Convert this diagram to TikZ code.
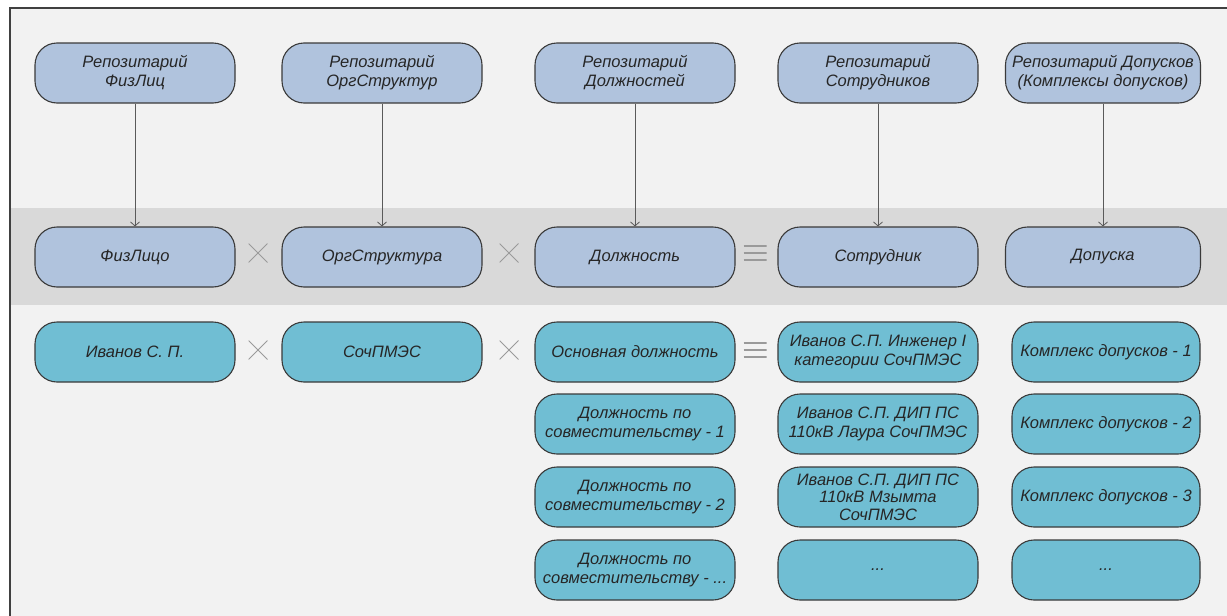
\documentclass[tikz,border=0pt]{standalone}
\usepackage{fontspec}
\setmainfont{Liberation Sans}
\usetikzlibrary{arrows.meta}
\definecolor{bgc}{HTML}{F2F2F2}
\definecolor{bandc}{HTML}{D9D9D9}
\definecolor{topc}{HTML}{B0C3DD}
\definecolor{botc}{HTML}{70BED3}
\definecolor{edgec}{HTML}{3A3A3A}
\definecolor{symc}{HTML}{9A9A9A}
\definecolor{arrc}{HTML}{5A5A5A}
\definecolor{framec}{HTML}{404040}
\begin{document}
\begin{tikzpicture}[x=1pt,y=-1pt,
  box/.style={draw=edgec, line width=1.1pt, rounded corners=22pt, minimum width=200pt,
    minimum height=60pt, inner sep=0pt, align=center,
    font=\fontsize{16.5}{19}\selectfont\itshape, text=black!85},
  repo/.style={box, fill=topc},
  inst/.style={box, fill=botc},
  crossmark/.style={minimum width=19pt, minimum height=19pt, inner sep=0pt,
    path picture={\draw[symc, line width=1pt]
      (path picture bounding box.north west) -- (path picture bounding box.south east)
      (path picture bounding box.north east) -- (path picture bounding box.south west);}},
  equivmark/.style={minimum width=23pt, minimum height=16pt, inner sep=0pt,
    path picture={\draw[symc, line width=1.8pt]
      ([yshift=-1pt]path picture bounding box.north west) -- ([yshift=-1pt]path picture bounding box.north east)
      (path picture bounding box.west) -- (path picture bounding box.east)
      ([yshift=1pt]path picture bounding box.south west) -- ([yshift=1pt]path picture bounding box.south east);}},
  link/.style={draw=arrc, line width=0.8pt, -{Straight Barb[length=4pt,width=9pt]}}]
\useasboundingbox (0,0) rectangle (1227,616);
\fill[bgc] (10,8) rectangle (1227,616);
\fill[bandc] (11,208) rectangle (1227,305);
\draw[framec, line width=1.2pt] (10,616) -- (10,8) -- (1227,8);

% top row
\node[repo] (r1) at (135,73) {Репозитарий\\ФизЛиц};
\node[repo] (r2) at (382,73) {Репозитарий\\ОргСтруктур};
\node[repo] (r3) at (635,73) {Репозитарий\\Должностей};
\node[repo] (r4) at (878,73) {Репозитарий\\Сотрудников};
\node[repo, minimum width=195pt] (r5) at (1103,73) {Репозитарий Допусков\\(Комплексы допусков)};

% middle row
\node[repo] (m1) at (135,257) {ФизЛицо};
\node[repo] (m2) at (382,257) {ОргСтруктура};
\node[repo] (m3) at (635,257) {Должность};
\node[repo] (m4) at (878,257) {Сотрудник};
\node[repo, minimum width=195pt] (m5) at (1103,257) {Допуска};

\draw[link] (r1) -- (m1);
\draw[link] (r2) -- (m2);
\draw[link] (r3) -- (m3);
\draw[link] (r4) -- (m4);
\draw[link] (r5) -- (m5);

\node[crossmark] (x1) at (258,253) {};
\node[crossmark] (x2) at (509,253) {};
\node[equivmark] (e1) at (755,253) {};

% bottom rows
\node[inst] (b11) at (135,352) {Иванов С. П.};
\node[inst] (b21) at (382,352) {СочПМЭС};
\node[inst] (b31) at (635,352) {Основная должность};
\node[inst] (b32) at (635,424) {Должность по\\совместительству - 1};
\node[inst] (b33) at (635,497) {Должность по\\совместительству - 2};
\node[inst] (b34) at (635,570) {Должность по\\совместительству - ...};
\node[inst] (b41) at (878,352) {Иванов С.П. Инженер I\\категории СочПМЭС};
\node[inst] (b42) at (878,424) {Иванов С.П. ДИП ПС\\110кВ Лаура СочПМЭС};
\node[inst, font=\fontsize{16.5}{17.5}\selectfont\itshape] (b43) at (878,497) {Иванов С.П. ДИП ПС\\110кВ Мзымта\\СочПМЭС};
\node[inst] (b44) at (878,570) {...};
\node[inst, minimum width=188pt] (b51) at (1106,352) {Комплекс допусков - 1};
\node[inst, minimum width=188pt] (b52) at (1106,424) {Комплекс допусков - 2};
\node[inst, minimum width=188pt] (b53) at (1106,497) {Комплекс допусков - 3};
\node[inst, minimum width=188pt] (b54) at (1106,570) {...};

\node[crossmark] (x3) at (258,350) {};
\node[crossmark] (x4) at (509,350) {};
\node[equivmark] (e2) at (755,350) {};
\end{tikzpicture}
\end{document}
